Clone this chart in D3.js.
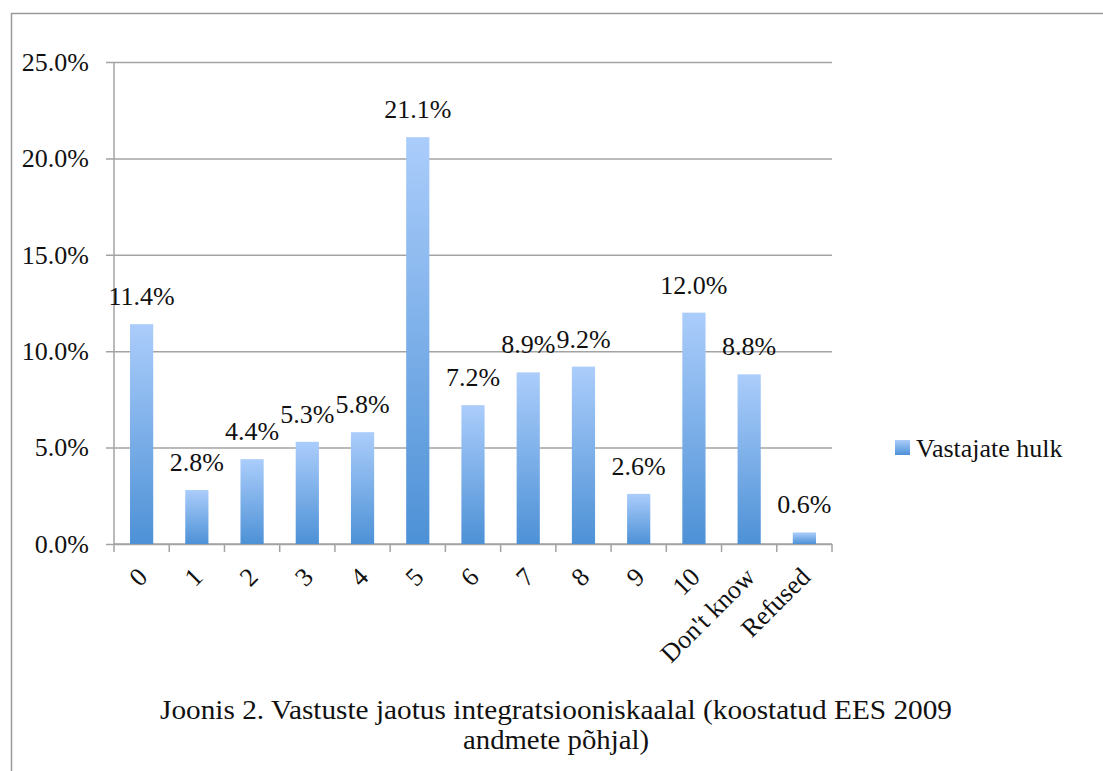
<!DOCTYPE html>
<html>
<head>
  <meta charset="utf-8">
  <title>Vastuste jaotus</title>
  <script src="https://d3js.org/d3.v7.min.js"></script>
  <style>
    body { margin: 0; background: #fff; }
    text { font-family: "Liberation Serif", "Times New Roman", serif; fill: #111; }
  </style>
</head>
<body>

  <svg width="1103" height="771"></svg>

  <script>

    // Data for the chart
    const categories = ["0", "1", "2", "3", "4", "5", "6", "7", "8", "9", "10", "Don't know", "Refused"];
    const values = [11.4, 2.8, 4.4, 5.3, 5.8, 21.1, 7.2, 8.9, 9.2, 2.6, 12.0, 8.8, 0.6];
    const yTicks = [0, 5, 10, 15, 20, 25];
    const seriesName = "Vastajate hulk";
    const captionLines = ["Joonis 2. Vastuste jaotus integratsiooniskaalal (koostatud EES 2009", "andmete põhjal)"];

    const width = 1103;
    const height = 771;
    const margin = { top: 62, left: 114, right: 271, bottom: 227 };
    const chartWidth = width - margin.left - margin.right;
    const chartHeight = height - margin.top - margin.bottom;
    const fontSize = 26;

    const svg = d3.select("svg");

    // gradient for bars
    const grad = svg.append("defs").append("linearGradient")
      .attr("id", "barGrad")
      .attr("x1", 0).attr("y1", 0).attr("x2", 0).attr("y2", 1);
    grad.append("stop").attr("offset", "0%").attr("stop-color", "#abcdfb");
    grad.append("stop").attr("offset", "100%").attr("stop-color", "#4d91d6");

    // outer frame (left and top lines)
    svg.append("path")
      .attr("d", `M11.5,${height} V13.5 H${width}`)
      .attr("fill", "none")
      .attr("stroke", "#9a9a9a")
      .attr("stroke-width", 1.5);

    const chart = svg.append("g")
      .attr("transform", `translate(${margin.left},${margin.top})`);

    const xScale = d3.scaleBand()
      .domain(categories)
      .range([0, chartWidth])
      .paddingInner(0.58)
      .paddingOuter(0.29);

    const yScale = d3.scaleLinear()
      .domain([0, 25])
      .range([chartHeight, 0]);

    // gridlines + y axis
    const yAxis = chart.append("g")
      .call(d3.axisLeft(yScale)
        .tickValues(yTicks)
        .tickSize(-chartWidth)
        .tickPadding(25)
        .tickFormat(d => d.toFixed(1) + "%"));
    yAxis.select(".domain").remove();
    yAxis.selectAll(".tick line")
      .attr("x1", -8)
      .attr("stroke", "#a3a3a3")
      .attr("stroke-width", 1.5);
    yAxis.selectAll(".tick text")
      .attr("font-size", fontSize)
      .attr("font-family", "Liberation Serif")
      .attr("fill", "#111");

    // vertical axis line
    chart.append("line")
      .attr("x1", 0).attr("x2", 0)
      .attr("y1", 0).attr("y2", chartHeight + 8)
      .attr("stroke", "#a3a3a3")
      .attr("stroke-width", 1.5);

    // x axis with ticks between categories
    const xAxis = chart.append("g")
      .attr("transform", `translate(0,${chartHeight})`);
    xAxis.append("line")
      .attr("x1", 0).attr("x2", chartWidth)
      .attr("stroke", "#a3a3a3")
      .attr("stroke-width", 1.5);
    xAxis.selectAll(".sep")
      .data(categories)
      .enter().append("line")
        .attr("class", "sep")
        .attr("x1", d => xScale(d) + xScale.bandwidth() + xScale.step() * 0.29)
        .attr("x2", d => xScale(d) + xScale.bandwidth() + xScale.step() * 0.29)
        .attr("y1", 0).attr("y2", 8)
        .attr("stroke", "#a3a3a3")
        .attr("stroke-width", 1.5);

    xAxis.selectAll(".xlab")
      .data(categories)
      .enter().append("text")
        .attr("class", "xlab")
        .attr("font-size", fontSize)
        .attr("text-anchor", "end")
        .attr("dy", "0.35em")
        .attr("transform", d => `translate(${xScale(d) + xScale.bandwidth() / 2 + 1},28) rotate(-45)`)
        .text(d => d);

    // bars
    chart.selectAll(".bar")
      .data(values)
      .enter().append("rect")
        .attr("class", "bar")
        .attr("x", (d, i) => xScale(categories[i]))
        .attr("y", d => yScale(d))
        .attr("width", xScale.bandwidth())
        .attr("height", d => chartHeight - yScale(d))
        .attr("fill", "url(#barGrad)");

    // value labels
    chart.selectAll(".vlab")
      .data(values)
      .enter().append("text")
        .attr("class", "vlab")
        .attr("font-size", fontSize)
        .attr("text-anchor", "middle")
        .attr("x", (d, i) => xScale(categories[i]) + xScale.bandwidth() / 2)
        .attr("y", d => yScale(d) - 19)
        .text(d => d.toFixed(1) + "%");

    // legend
    const legend = svg.append("g").attr("transform", "translate(895,440)");
    legend.append("rect")
      .attr("width", 15).attr("height", 15)
      .attr("fill", "url(#barGrad)");
    legend.append("text")
      .attr("x", 21).attr("y", 17)
      .attr("font-size", fontSize)
      .text(seriesName);

    // caption
    svg.selectAll(".cap")
      .data(captionLines)
      .enter().append("text")
        .attr("class", "cap")
        .attr("x", 556)
        .attr("y", (d, i) => 719 + i * 30)
        .attr("text-anchor", "middle")
        .attr("font-size", 28)
        .attr("textLength", (d, i) => i === 0 ? 792 : 186)
        .attr("lengthAdjust", "spacingAndGlyphs")
        .text(d => d);

  </script>

</body>
</html>
